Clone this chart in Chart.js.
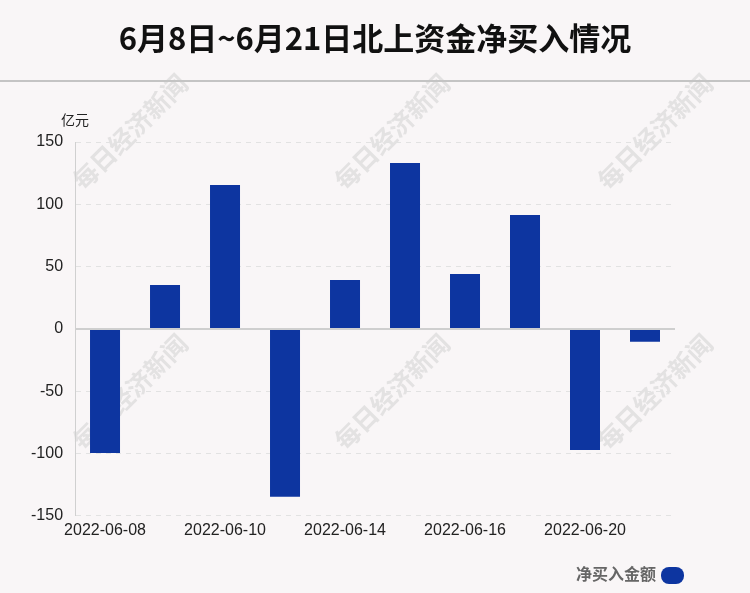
<!DOCTYPE html>
<html>
<head>
<meta charset="utf-8">
<script src="https://cdn.jsdelivr.net/npm/chart.js@4/dist/chart.umd.min.js"></script>
<style>
  html, body { margin: 0; padding: 0; background: #f9f6f7; }
  #wrap { width: 750px; height: 593px; position: relative; }
</style>
</head>
<body>
<div id="wrap"><canvas id="bar-chart"></canvas></div>
<script>
var dates = ["2022-06-08", "2022-06-09", "2022-06-10", "2022-06-13", "2022-06-14",
             "2022-06-15", "2022-06-16", "2022-06-17", "2022-06-20", "2022-06-21"]
var netBuy = [-99.5, 35.3, 115.5, -134.8, 39.3, 133.2, 44.1, 91.4, -97.1, -10.4]
var yTicks = [-150, -100, -50, 0, 50, 100, 150]

var titleText = "6月8日~6月21日北上资金净买入情况"
var unitText = "亿元"
var legendText = "净买入金额"
var watermark = "每日经济新闻"
var barColor = "#0d35a0"

var decor = {
  id: 'decor',
  beforeDraw: function(chart) {
    var ctx = chart.ctx
    ctx.save()
    ctx.fillStyle = '#f9f6f7'
    ctx.fillRect(0, 0, chart.width, chart.height)
    // watermarks
    ctx.font = 'bold 25px "Noto Sans CJK SC"'
    ctx.fillStyle = 'rgba(205,205,205,0.5)'
    ctx.textAlign = 'center'
    ctx.textBaseline = 'middle'
    var spots = [[130, 132], [392, 132], [655, 132], [130, 392], [392, 392], [655, 392]]
    spots.forEach(function(p) {
      ctx.save()
      ctx.translate(p[0], p[1])
      ctx.rotate(-Math.PI / 4)
      ctx.fillText(watermark, 0, 0)
      ctx.restore()
    })
    ctx.restore()
  },
  afterDraw: function(chart) {
    var ctx = chart.ctx
    ctx.save()
    // title
    ctx.fillStyle = '#111'
    ctx.font = 'bold 31px "Noto Sans CJK SC"'
    ctx.textAlign = 'center'
    ctx.textBaseline = 'middle'
    ctx.fillText(titleText, 375, 38)
    // rule under title
    ctx.strokeStyle = '#c4c4c4'
    ctx.lineWidth = 2
    ctx.beginPath()
    ctx.moveTo(0, 81)
    ctx.lineTo(750, 81)
    ctx.stroke()
    // unit
    ctx.fillStyle = '#222'
    ctx.font = '14px "Noto Sans CJK SC"'
    ctx.textAlign = 'center'
    ctx.fillText(unitText, 75, 120)
    // legend
    ctx.fillStyle = '#666'
    ctx.font = 'bold 16px "Noto Sans CJK SC"'
    ctx.textAlign = 'right'
    ctx.fillText(legendText, 656, 574)
    ctx.fillStyle = barColor
    ctx.beginPath()
    ctx.roundRect(661, 567, 23, 17, 8)
    ctx.fill()
    ctx.restore()
  }
}

new Chart(document.getElementById("bar-chart"), {
  type: 'bar',
  data: {
    labels: dates,
    datasets: [{
      label: legendText,
      backgroundColor: barColor,
      data: netBuy,
      categoryPercentage: 1,
      barPercentage: 0.5
    }]
  },
  options: {
    responsive: true,
    maintainAspectRatio: false,
    animation: false,
    layout: { padding: { top: 142, left: 19, right: 75, bottom: 48 } },
    plugins: {
      legend: { display: false },
      tooltip: { enabled: false }
    },
    scales: {
      x: {
        grid: { display: false, drawTicks: false },
        border: { display: false },
        ticks: {
          color: '#222',
          padding: 5,
          font: { size: 16, family: 'Liberation Sans' },
          maxRotation: 0,
          autoSkip: false,
          callback: function(v, i) { return i % 2 === 0 ? dates[i] : '' }
        }
      },
      y: {
        min: -150,
        max: 150,
        afterBuildTicks: function(axis) {
          axis.ticks = yTicks.map(function(v) { return { value: v } })
        },
        border: {
          color: '#d0d0d0',
          dash: function(c) { return c.tick && c.tick.value === 0 ? [] : [5, 5] }
        },
        grid: {
          drawTicks: false,
          color: function(c) { return c.tick.value === 0 ? '#cfcfcf' : '#e2e2e2' },
          lineWidth: function(c) { return c.tick.value === 0 ? 2 : 1 }
        },
        ticks: {
          color: '#222',
          padding: 12,
          font: { size: 16, family: 'Liberation Sans' }
        }
      }
    }
  },
  plugins: [decor]
})
</script>
</body>
</html>
